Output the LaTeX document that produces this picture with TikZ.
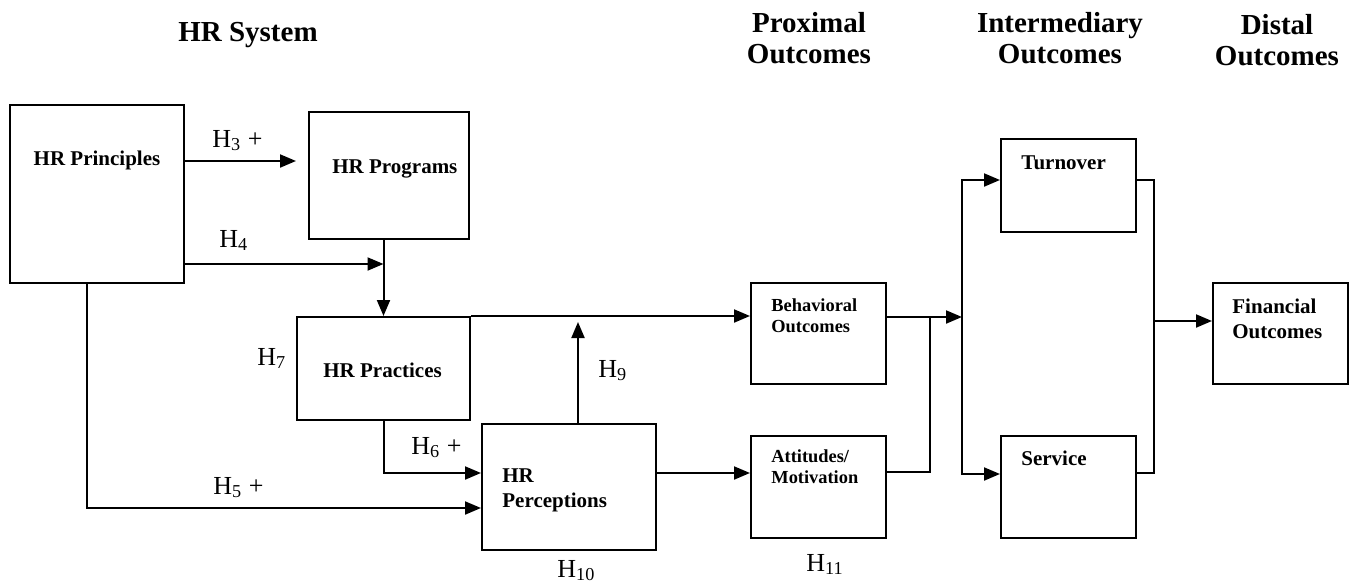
\documentclass[tikz,border=0pt]{standalone}
\usepackage{fontspec}
\setmainfont{Liberation Serif}
\usetikzlibrary{arrows.meta, positioning, calc}

\begin{document}
\begin{tikzpicture}[x=0.5pt, y=-0.5pt, >={Triangle[length=8pt, width=6.5pt]},
  box/.style={draw, line width=1pt, anchor=north west, inner sep=0pt},
  intxt/.style={anchor=base west, inner sep=0pt, align=left, font=\bfseries\fontsize{10.5}{12.5}\selectfont},
  smalltxt/.style={intxt, font=\bfseries\fontsize{9.2}{10.5}\selectfont},
  head/.style={anchor=base, inner sep=0pt, align=center, font=\bfseries\fontsize{14.5}{15.5}\selectfont},
  hyp/.style={anchor=base west, inner sep=0pt, font=\fontsize{13}{15}\selectfont},
  arr/.style={->, line width=1pt},
  line/.style={line width=1pt}]
\useasboundingbox (0,0) rectangle (1356,584);

% column headings (base = last line)
\node[head] (hsys) at (248,41) {HR System};
\node[head] (hprox) at (809,63) {Proximal\\Outcomes};
\node[head] (hint) at (1060,63) {Intermediary\\Outcomes};
\node[head] (hdist) at (1277,65) {Distal\\Outcomes};

% HR system boxes
\node[box, minimum width=87pt, minimum height=89pt] (prin) at (9,104) {};
\node[intxt, anchor=base] (printxt) at ([shift={(0,61)}]prin.north) {HR Principles};
\node[box, minimum width=80pt, minimum height=63.5pt] (prog) at (308,111) {};
\node[intxt] (progtxt) at ([shift={(24,62)}]prog.north west) {HR Programs};
\node[box, minimum width=86.5pt, minimum height=51.5pt] (pract) at (296,316) {};
\node[intxt] (practtxt) at ([shift={(27,61)}]pract.north west) {HR Practices};
\node[box, minimum width=87pt, minimum height=63pt] (perc) at (481,423) {};
\node[intxt] (perctxt) at ([shift={(21,84)}]perc.north west) {HR\\Perceptions};

% outcome boxes
\node[box, minimum width=67.5pt, minimum height=50.5pt] (beh) at (750,282) {};
\node[smalltxt] (behtxt) at ([shift={(21,50)}]beh.north west) {Behavioral\\Outcomes};
\node[box, minimum width=67.5pt, minimum height=51pt] (att) at (750,435) {};
\node[smalltxt] (atttxt) at ([shift={(21,48)}]att.north west) {Attitudes/\\Motivation};
\node[box, minimum width=67.5pt, minimum height=46.5pt] (turn) at (1000,138) {};
\node[intxt] (turntxt) at ([shift={(21,31)}]turn.north west) {Turnover};
\node[box, minimum width=67.5pt, minimum height=51pt] (serv) at (1000,435) {};
\node[intxt] (servtxt) at ([shift={(21,30)}]serv.north west) {Service};
\node[box, minimum width=67.5pt, minimum height=50.5pt] (fin) at (1212,282) {};
\node[intxt] (fintxt) at ([shift={(20,56)}]fin.north west) {Financial\\Outcomes};

% hypotheses
\node[hyp] (h3) at (212,147) {H\textsubscript{3} +};
\node[hyp] (h4) at (219,247) {H\textsubscript{4}};
\node[hyp] (h5) at (213,494) {H\textsubscript{5} +};
\node[hyp] (h6) at (411,454) {H\textsubscript{6} +};
\node[hyp] (h7) at (257,365) {H\textsubscript{7}};
\node[hyp] (h9) at (598,377) {H\textsubscript{9}};
\node[hyp] (h10) at (557,577) {H\textsubscript{10}};
\node[hyp] (h11) at (806,571) {H\textsubscript{11}};

% links inside the HR system
\draw[arr, shorten >=6pt] (prin.east |- 0,161) -- (prog.west |- 0,161);
\draw[arr] (prin.east |- 0,264) -- (pract.north |- 0,264);
\draw[arr] (prog.south -| pract.north) -- (pract.north);
\draw[arr] (pract.north east) -- (pract.north east -| beh.west);
\draw[arr, shorten >=3pt] (perc.north -| 578,0) -- (pract.north -| 578,0);
\draw[arr] (pract.south) |- (perc.west |- 0,473);
\draw[arr] (prin.south -| 87,0) |- (perc.west |- 0,508);
\draw[arr] (perc.east |- 0,473) -- (att.west |- 0,473);

% links to the outcomes
\coordinate (merge) at (930,317);
\coordinate (join) at (962,317);
\coordinate (fork) at (1154,321);
\draw[arr] (beh.east |- join) -- (join);
\draw[line] (att.east |- 0,472) -| (merge);
\draw[arr] (join) |- (turn.west |- 0,180);
\draw[arr] (join) |- (serv.west |- 0,474);
\draw[line] (turn.east |- 0,180) -| (fork) |- (serv.east |- 0,473);
\draw[arr] (fork) -- (fin.west |- fork);
\end{tikzpicture}
\end{document}
